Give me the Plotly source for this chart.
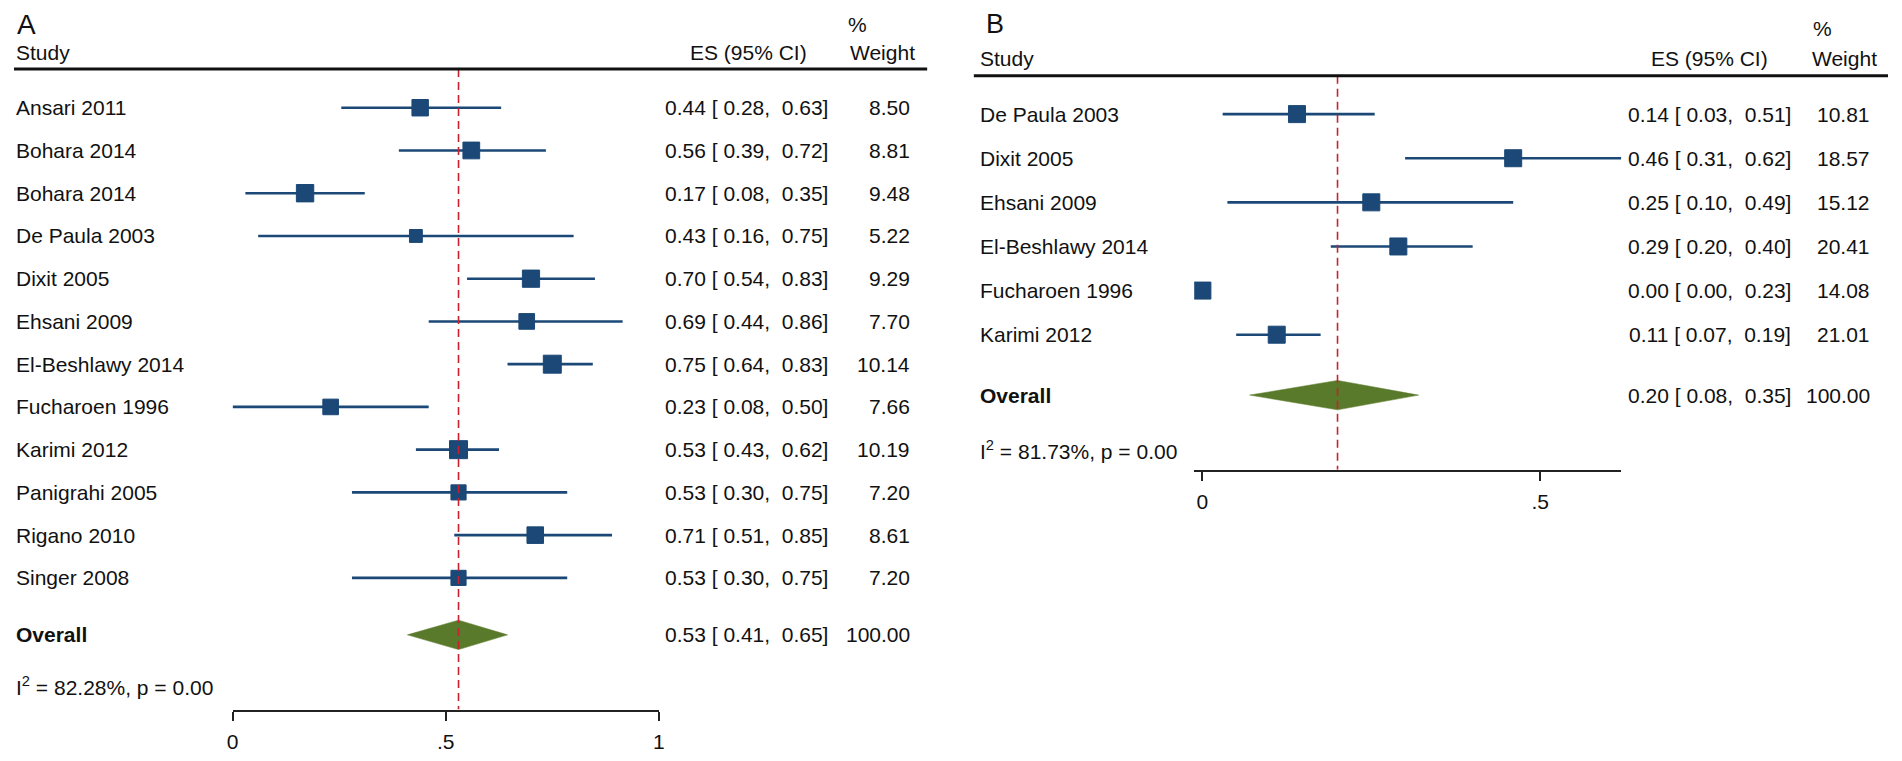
import plotly.graph_objects as go

# the page body keeps its 8px margin, so the figure is drawn 16px smaller
# and every position below is given in window pixels
OFF = 8
W, H = 1902 - 2 * OFF, 761 - 2 * OFF
FONT = "Liberation Sans, Arial, sans-serif"
NAVY = "#1b4876"
GREEN = "#5a7a2b"
RED = "#c8202f"
INK = "#111111"

# ---- panel A data ----
studies_a = ["Ansari 2011", "Bohara 2014", "Bohara 2014", "De Paula 2003", "Dixit 2005",
             "Ehsani 2009", "El-Beshlawy 2014", "Fucharoen 1996", "Karimi 2012",
             "Panigrahi 2005", "Rigano 2010", "Singer 2008"]
es_a = [0.44, 0.56, 0.17, 0.43, 0.70, 0.69, 0.75, 0.23, 0.53, 0.53, 0.71, 0.53]
lo_a = [0.28, 0.39, 0.08, 0.16, 0.54, 0.44, 0.64, 0.08, 0.43, 0.30, 0.51, 0.30]
hi_a = [0.63, 0.72, 0.35, 0.75, 0.83, 0.86, 0.83, 0.50, 0.62, 0.75, 0.85, 0.75]
wt_a = [8.50, 8.81, 9.48, 5.22, 9.29, 7.70, 10.14, 7.66, 10.19, 7.20, 8.61, 7.20]
# whisker ends as they are drawn in the figure
bar_lo_a = [0.255, 0.39, 0.03, 0.06, 0.55, 0.46, 0.645, 0.00, 0.43, 0.28, 0.52, 0.28]
bar_hi_a = [0.63, 0.735, 0.31, 0.80, 0.85, 0.915, 0.845, 0.46, 0.625, 0.785, 0.89, 0.785]
overall_a = [0.53, 0.41, 0.65]
overall_bar_a = [0.41, 0.645]
i2_a = "82.28%"
p_a = "0.00"

# ---- panel B data ----
studies_b = ["De Paula 2003", "Dixit 2005", "Ehsani 2009", "El-Beshlawy 2014",
             "Fucharoen 1996", "Karimi 2012"]
es_b = [0.14, 0.46, 0.25, 0.29, 0.00, 0.11]
lo_b = [0.03, 0.31, 0.10, 0.20, 0.00, 0.07]
hi_b = [0.51, 0.62, 0.49, 0.40, 0.23, 0.19]
wt_b = [10.81, 18.57, 15.12, 20.41, 14.08, 21.01]
bar_lo_b = [0.03, 0.30, 0.037, 0.19, 0.00, 0.05]
bar_hi_b = [0.255, 0.62, 0.46, 0.40, 0.00, 0.175]
overall_b = [0.20, 0.08, 0.35]
overall_bar_b = [0.07, 0.32]
i2_b = "81.73%"
p_b = "0.00"

# pixel geometry of each panel (window pixels)
GEO_A = dict(letter="A", letter_x=10, letter_size=28, study_x=9, es_right=828, es_head_right=807,
             wt_right=911, wt_head_right=916, pct_x=857, head_y=53, pct_y=25, line_y=70,
             line_x0=OFF, line_x1=927, row0=109.5, step=43.5, overall_y=646, i2_y=698, axis_y=722,
             zero_px=228, unit_px=429, xrange=[0, 1], tickvals=[0, 0.5, 1], ticktext=["0", ".5", "1"],
             box=lambda w: 5.64 * w ** 0.5)
GEO_B = dict(letter="B", letter_x=985, letter_size=27, study_x=979, es_right=1797, es_head_right=1774,
             wt_right=1877, wt_head_right=1884, pct_x=1828, head_y=59, pct_y=29, line_y=77,
             line_x0=974, line_x1=1902 - OFF, row0=116, step=44.9, overall_y=402, i2_y=458, axis_y=478,
             zero_px=1204, unit_px=680, xrange=[-0.012, 0.62], tickvals=[0, 0.5], ticktext=["0", ".5"],
             box=lambda w: 17)


def px(x):
    return (x - OFF) / W


def ci_text(es, lo, hi):
    nb = "\u00a0"
    return f"{es:.2f}{nb}[{nb}{lo:.2f},{nb}{nb}{hi:.2f}]"


fig = go.Figure()
annotations = []
shapes = []


def draw_panel(n, g, studies, es, lo, hi, wt, bar_lo, bar_hi, overall, overall_bar, i2, pval):
    xa = "x" if n == 1 else f"x{n}"
    ya = "y" if n == 1 else f"y{n}"
    rows = [g["row0"] + i * g["step"] for i in range(len(studies))]

    # whiskers
    wx, wy = [], []
    for l, h, y in zip(bar_lo, bar_hi, rows):
        wx += [l, h, None]
        wy += [y, y, None]
    fig.add_trace(go.Scatter(x=wx, y=wy, mode="lines", line=dict(color=NAVY, width=2.6),
                             xaxis=xa, yaxis=ya, hoverinfo="skip"))
    # boxes
    fig.add_trace(go.Scatter(x=es, y=rows, mode="markers", xaxis=xa, yaxis=ya,
                             marker=dict(symbol="square", color=NAVY, opacity=1,
                                         size=[g["box"](w) for w in wt],
                                         line=dict(width=1, color=NAVY))))
    # pooled diamond
    oy = g["overall_y"]
    hh = 15
    fig.add_trace(go.Scatter(x=[overall_bar[0], overall[0], overall_bar[1], overall[0], overall_bar[0]],
                             y=[oy, oy - hh, oy, oy + hh, oy], mode="lines", fill="toself",
                             fillcolor=GREEN, line=dict(color=GREEN, width=0.5),
                             xaxis=xa, yaxis=ya, hoverinfo="skip"))

    # reference line at pooled estimate
    shapes.append(dict(type="line", xref=xa, yref=ya, x0=overall[0], x1=overall[0],
                       y0=g["line_y"], y1=g["axis_y"],
                       line=dict(color=RED, width=1.6, dash="8px,5px")))
    # header rule
    shapes.append(dict(type="line", xref="paper", yref=ya, x0=px(g["line_x0"]), x1=px(g["line_x1"]),
                       y0=g["line_y"], y1=g["line_y"], line=dict(color=INK, width=3)))

    def txt(x, y, s, anchor="left", size=21, vanchor="middle"):
        annotations.append(dict(x=px(x), y=y, xref="paper", yref=ya, text=s, showarrow=False,
                                xanchor=anchor, yanchor=vanchor, borderpad=0,
                                font=dict(family=FONT, size=size, color=INK)))

    txt(g["letter_x"], OFF, g["letter"], size=g["letter_size"], vanchor="top")
    txt(g["study_x"], g["head_y"], "Study")
    txt(g["es_head_right"], g["head_y"], "ES (95% CI)", anchor="right")
    txt(g["pct_x"], g["pct_y"], "%", anchor="center")
    txt(g["wt_head_right"], g["head_y"], "Weight", anchor="right")
    for s, e, l, h, w, y in zip(studies, es, lo, hi, wt, rows):
        txt(g["study_x"], y, s)
        txt(g["es_right"], y, ci_text(e, l, h), anchor="right")
        txt(g["wt_right"], y, f"{w:.2f}", anchor="right")
    txt(g["study_x"], oy, "<b>Overall</b>")
    txt(g["es_right"], oy, ci_text(*overall), anchor="right")
    txt(g["wt_right"], oy, "100.00", anchor="right")
    txt(g["study_x"], g["i2_y"], f"I<sup>2</sup> = {i2}, p = {pval}")

    r0, r1 = g["xrange"]
    px0 = g["zero_px"] + r0 * g["unit_px"]
    px1 = g["zero_px"] + r1 * g["unit_px"]
    xkey = "xaxis" if n == 1 else f"xaxis{n}"
    ykey = "yaxis" if n == 1 else f"yaxis{n}"
    fig.layout[xkey] = dict(domain=[px(px0), px(px1)], range=[r0, r1], anchor=ya,
                            showline=True, linecolor="#222222", linewidth=2, ticks="outside",
                            ticklen=9, tickwidth=2, tickcolor="#222222", tickvals=g["tickvals"],
                            ticktext=g["ticktext"], ticklabelstandoff=3, showgrid=False,
                            zeroline=False, tickfont=dict(family=FONT, size=21, color=INK),
                            fixedrange=True)
    fig.layout[ykey] = dict(domain=[(H - (g["axis_y"] - OFF)) / H, 1], range=[g["axis_y"], OFF],
                            anchor=xa, visible=False, showgrid=False, zeroline=False,
                            fixedrange=True)


draw_panel(1, GEO_A, studies_a, es_a, lo_a, hi_a, wt_a, bar_lo_a, bar_hi_a,
           overall_a, overall_bar_a, i2_a, p_a)
draw_panel(2, GEO_B, studies_b, es_b, lo_b, hi_b, wt_b, bar_lo_b, bar_hi_b,
           overall_b, overall_bar_b, i2_b, p_b)

fig.update_layout(width=W, height=H, margin=dict(l=0, r=0, t=0, b=0),
                  paper_bgcolor="white", plot_bgcolor="white", showlegend=False,
                  annotations=annotations, shapes=shapes,
                  font=dict(family=FONT, size=21, color=INK))

fig.write_html("out.html")
